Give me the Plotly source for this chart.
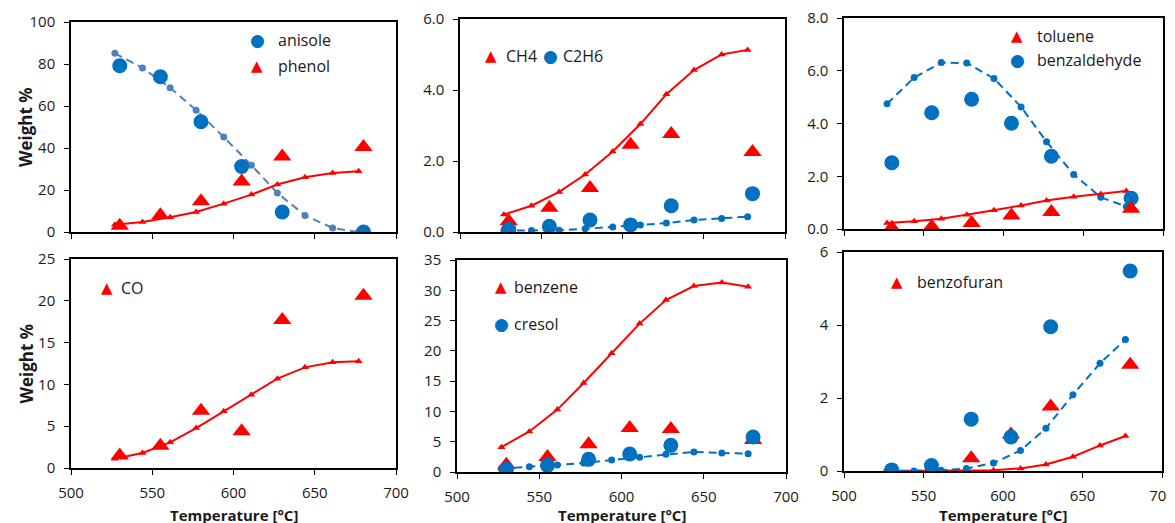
import plotly.graph_objects as go

W, H = 1175, 523

# ---------------- data ----------------
T_model = [527, 544, 561, 577, 594, 611, 627, 644, 661, 677]
T_exp = [530, 555, 580, 605, 630, 680]

anisole_model = [85.1, 78.1, 68.7, 58.0, 45.2, 31.8, 18.6, 7.9, 1.9, 0.0]
phenol_model = [3.5, 4.8, 7.0, 9.5, 13.5, 17.8, 22.6, 26.1, 28.1, 28.9]
anisole_exp = [79.2, 73.9, 52.5, 31.2, 9.5, 0.0]
phenol_exp = [3.0, 8.0, 14.6, 24.0, 36.0, 40.5]

ch4_model = [0.49, 0.74, 1.13, 1.62, 2.27, 3.04, 3.88, 4.56, 5.00, 5.13]
c2h6_model = [0.04, 0.04, 0.05, 0.09, 0.14, 0.20, 0.25, 0.34, 0.38, 0.43]
ch4_exp = [0.30, 0.68, 1.24, 2.46, 2.76, 2.25]
c2h6_exp = [0.07, 0.16, 0.34, 0.20, 0.74, 1.08]

benzald_model = [4.75, 5.74, 6.31, 6.29, 5.71, 4.63, 3.31, 2.07, 1.20, 0.85]
toluene_model = [0.23, 0.29, 0.39, 0.54, 0.71, 0.89, 1.08, 1.22, 1.33, 1.44]
benzald_exp = [2.51, 4.41, 4.92, 4.01, 2.76, 1.17]
toluene_exp = [0.05, 0.09, 0.23, 0.51, 0.64, 0.77]

co_model = [1.1, 1.79, 3.07, 4.78, 6.78, 8.77, 10.69, 12.04, 12.64, 12.76]
co_exp = [1.5, 2.67, 6.86, 4.39, 17.7, 20.6]

benzene_model = [4.1, 6.7, 10.3, 14.7, 19.6, 24.5, 28.4, 30.7, 31.3, 30.6]
cresol_model = [0.55, 0.88, 1.15, 1.48, 1.98, 2.42, 2.91, 3.30, 3.13, 3.02]
benzene_exp = [1.2, 2.47, 4.6, 7.25, 7.1, 5.3]
cresol_exp = [0.44, 1.1, 2.09, 2.97, 4.4, 5.77]

blue6_model = [0.0, 0.0, 0.02, 0.07, 0.22, 0.56, 1.17, 2.09, 2.95, 3.60]
benzofuran_model = [0.0, 0.0, 0.0, 0.0, 0.02, 0.07, 0.18, 0.39, 0.70, 0.96]
blue6_exp = [0.03, 0.15, 1.42, 0.93, 3.95, 5.48]
benzofuran_exp = [0.0, 0.05, 0.35, 1.0, 1.77, 2.91]

x_ticks = [500, 550, 600, 650, 700]

# ---------------- styles ----------------
RED = "#FF0000"
BLUE = "#0070C0"
BLUE_LIGHT = "#4F81BD"
DASH = "8px,5px"
FONT = "Open Sans"
TXT = "#1a1a1a"

fig = go.Figure()

# panel pixel boxes: (left, right, top, bottom)
boxes = [
    (63, 388, 14, 224),
    (452, 777, 11, 224),
    (836, 1155, 10, 221),
    (63, 388, 251, 460),
    (449, 778, 252, 464),
    (836, 1154, 244, 463),
]
yranges = [(0, 100, 20, None), (0, 6, 2, ".1f"), (0, 8, 2, ".1f"),
           (0, 25, 5, None), (0, 35, 5, None), (0, 6, 2, None)]


def ax_names(i):
    return ("x" if i == 0 else f"x{i+1}", "y" if i == 0 else f"y{i+1}")


def model(i, y, color, symbol, dash):
    xa, ya = ax_names(i)
    fig.add_trace(go.Scatter(
        x=T_model, y=y, xaxis=xa, yaxis=ya, mode="lines+markers",
        line=dict(color=color, width=2, dash=dash),
        marker=dict(color=color, symbol=symbol, size=7),
        showlegend=False, hoverinfo="skip"))


def exp(i, y, color, symbol, name):
    xa, ya = ax_names(i)
    fig.add_trace(go.Scatter(
        x=T_exp, y=y, xaxis=xa, yaxis=ya, mode="markers", name=name,
        marker=dict(color=color, symbol=symbol, size=15 if symbol == "circle" else 16),
        showlegend=False))


# panel 1
model(0, anisole_model, BLUE_LIGHT, "circle", DASH)
model(0, phenol_model, RED, "triangle-up", "solid")
exp(0, anisole_exp, BLUE, "circle", "anisole")
exp(0, phenol_exp, RED, "triangle-up", "phenol")
# panel 2
model(1, ch4_model, RED, "triangle-up", "solid")
model(1, c2h6_model, BLUE, "circle", DASH)
exp(1, ch4_exp, RED, "triangle-up", "CH4")
exp(1, c2h6_exp, BLUE, "circle", "C2H6")
# panel 3
model(2, benzald_model, BLUE, "circle", DASH)
model(2, toluene_model, RED, "triangle-up", "solid")
exp(2, benzald_exp, BLUE, "circle", "benzaldehyde")
exp(2, toluene_exp, RED, "triangle-up", "toluene")
# panel 4
model(3, co_model, RED, "triangle-up", "solid")
exp(3, co_exp, RED, "triangle-up", "CO")
# panel 5
model(4, benzene_model, RED, "triangle-up", "solid")
model(4, cresol_model, BLUE, "circle", DASH)
exp(4, benzene_exp, RED, "triangle-up", "benzene")
exp(4, cresol_exp, BLUE, "circle", "cresol")
# panel 6
model(5, benzofuran_model, RED, "triangle-up", "solid")
model(5, blue6_model, BLUE, "circle", DASH)
exp(5, benzofuran_exp, RED, "triangle-up", "benzofuran")
exp(5, blue6_exp, BLUE, "circle", "")

layout = dict(width=W, height=H, margin=dict(l=0, r=0, t=0, b=0, autoexpand=False),
              paper_bgcolor="white", plot_bgcolor="white", showlegend=False,
              font=dict(family=FONT, color=TXT, size=15))

for i, (l, r, t, b) in enumerate(boxes):
    xk = "xaxis" if i == 0 else f"xaxis{i+1}"
    yk = "yaxis" if i == 0 else f"yaxis{i+1}"
    xa, ya = ax_names(i)
    y0, y1, dt, fmt = yranges[i]
    layout[xk] = dict(domain=[l / W, r / W], anchor=ya, range=[500, 700],
                      tickvals=x_ticks, showticklabels=(i >= 3), automargin=False,
                      ticks="outside", ticklen=5, tickcolor="black", tickwidth=1,
                      showline=True, linecolor="black", linewidth=1.5, mirror=True,
                      showgrid=False, zeroline=False, ticklabelstandoff=5,
                      ticklabeloverflow="allow",
                      tickfont=dict(size=15, color=TXT, family=FONT))
    layout[yk] = dict(domain=[1 - b / H, 1 - t / H], anchor=xa, range=[y0, y1],
                      dtick=dt, tick0=0, tickformat=fmt, automargin=False,
                      ticks="outside", ticklen=5, tickcolor="black", tickwidth=1,
                      showline=True, linecolor="black", linewidth=1.5, mirror=True,
                      showgrid=False, zeroline=False, ticklabelstandoff=6,
                      ticklabeloverflow="allow",
                      tickfont=dict(size=15, color=TXT, family=FONT))

anns = []
for yc in [(14 + 224) / 2, (251 + 460) / 2]:
    anns.append(dict(text="<b>Weight %</b>", x=18 / W, y=1 - yc / H, xref="paper", yref="paper",
                     textangle=-90, showarrow=False, xanchor="center", yanchor="middle",
                     font=dict(family=FONT, size=17, color=TXT)))
for (l, r, t, b) in boxes[3:]:
    anns.append(dict(text="<b>Temperature [°C]</b>", x=(l + r) / 2 / W, y=1 - 507 / H,
                     xref="paper", yref="paper", showarrow=False, xanchor="center",
                     yanchor="middle", font=dict(family=FONT, size=15, color=TXT)))

# series keys: (symbol, colour, symbol x, y, label, label x)
keys = [
    ("●", BLUE, 249, 32, "anisole", 268),
    ("▲", RED, 249, 58, "phenol", 268),
    ("▲", RED, 483, 48, "CH4", 496),
    ("●", BLUE, 542, 48, "C2H6", 553),
    ("▲", RED, 1009, 28, "toluene", 1027),
    ("●", BLUE, 1009, 52, "benzaldehyde", 1027),
    ("▲", RED, 99, 280, "CO", 111),
    ("▲", RED, 493, 279, "benzene", 504),
    ("●", BLUE, 493, 316, "cresol", 504),
    ("▲", RED, 889, 274, "benzofuran", 907),
]
for sym, col, sx, sy, lab, lx in keys:
    anns.append(dict(text=sym, x=sx / W, y=1 - sy / H, xref="paper", yref="paper",
                     showarrow=False, xanchor="center", yanchor="middle",
                     font=dict(family="DejaVu Sans", size=15 if sym == "▲" else 17, color=col)))
    anns.append(dict(text=lab, x=lx / W, y=1 - sy / H, xref="paper", yref="paper",
                     showarrow=False, xanchor="left", yanchor="middle",
                     font=dict(family=FONT, size=16, color=TXT)))
layout["annotations"] = anns

fig.update_layout(**layout)
fig.write_html("out.html")
